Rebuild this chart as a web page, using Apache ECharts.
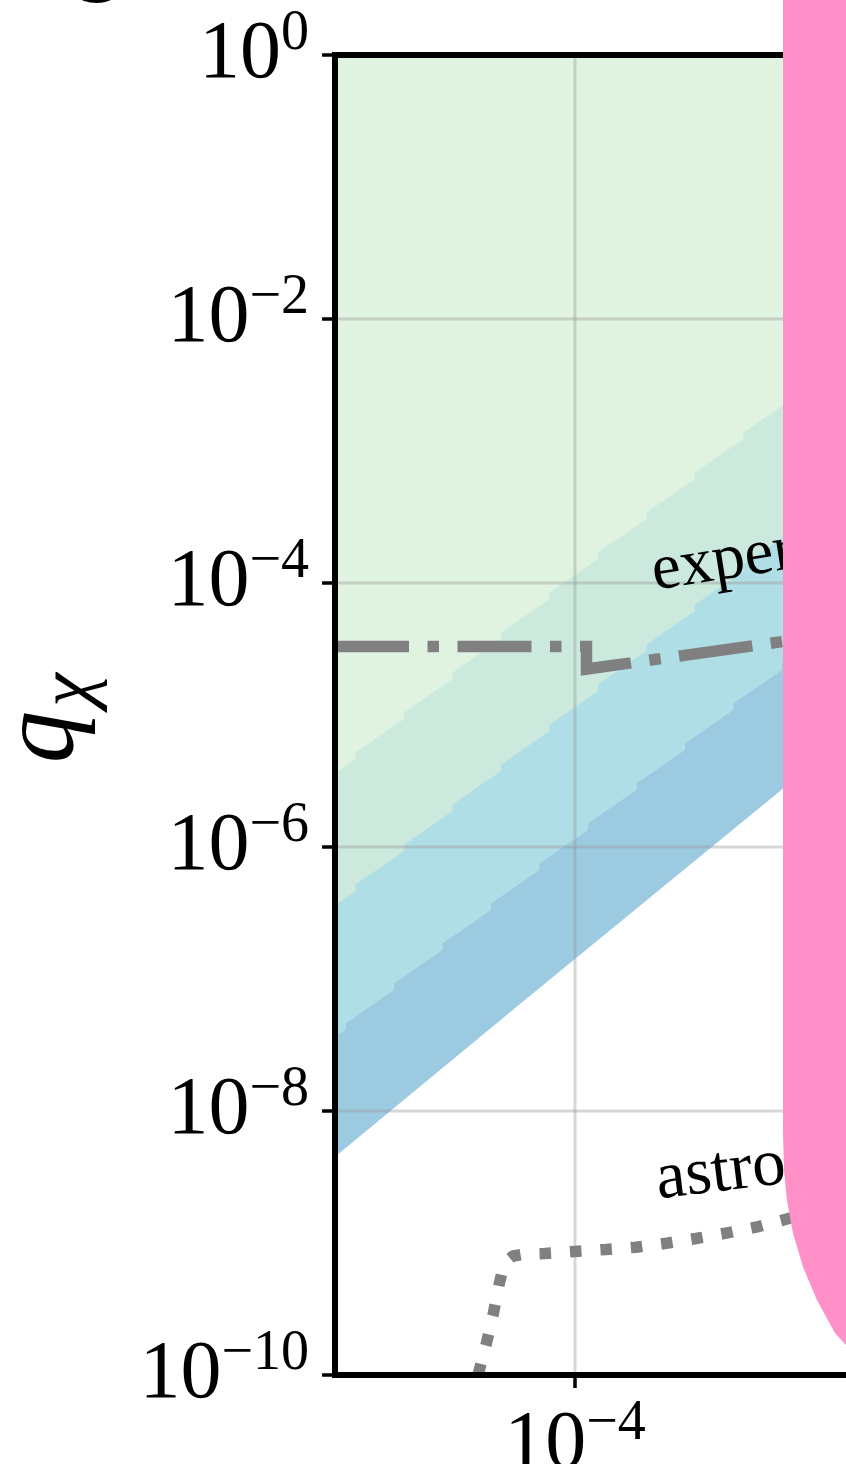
<!DOCTYPE html>
<html><head><meta charset="utf-8">
<script src="https://cdn.jsdelivr.net/npm/echarts@6/dist/echarts.min.js"></script>
<style>html,body{margin:0;padding:0;background:#fff}#c{width:846px;height:1464px}</style>
</head><body><div id="c"></div>
<script>
// axes are log10 values
const xRange = [-5, -2.45417];
const yRange = [-10, 0];
const yTicks = [0, -2, -4, -6, -8, -10];
const yGridValues = [-2, -4, -6, -8];
const xTicks = [-4];

// contour band boundaries (log10 m, log10 q)
const boundaryA = [[-5,-5.4394],[-4.91458,-5.3333],[-4.91458,-5.2841],[-4.7125,-5.0303],[-4.7125,-4.9811],[-4.51042,-4.7273],[-4.51042,-4.6780],[-4.30833,-4.4242],[-4.30833,-4.3750],[-4.10625,-4.1212],[-4.10625,-4.0720],[-3.90417,-3.8182],[-3.90417,-3.7689],[-3.70208,-3.5152],[-3.70208,-3.4659],[-3.5,-3.2121],[-3.5,-3.1629],[-3.29792,-2.9091],[-3.29792,-2.8598],[-3.09583,-2.6061],[-3.09583,-2.5568],[-2.89375,-2.3030],[-2.89375,-2.2538],[-2.69167,-2.0],[-2.69167,-1.9508],[-2.45417,-1.6515]];
const boundaryB = [[-5,-6.4394],[-4.91458,-6.3333],[-4.91458,-6.2841],[-4.7125,-6.0303],[-4.7125,-5.9811],[-4.51042,-5.7273],[-4.51042,-5.6780],[-4.30833,-5.4242],[-4.30833,-5.3750],[-4.10625,-5.1212],[-4.10625,-5.0720],[-3.90417,-4.8182],[-3.90417,-4.7689],[-3.70208,-4.5152],[-3.70208,-4.4659],[-3.5,-4.2121],[-3.5,-4.1629],[-3.29792,-3.9091],[-3.29792,-3.8598],[-3.09583,-3.6061],[-3.09583,-3.5568],[-2.89375,-3.3030],[-2.89375,-3.2538],[-2.69167,-3.0],[-2.69167,-2.9508],[-2.45417,-2.6515]];
const boundaryC = [[-5,-7.4318],[-4.95625,-7.3864],[-4.95625,-7.3371],[-4.75417,-7.0833],[-4.75417,-7.0341],[-4.55208,-6.7803],[-4.55208,-6.7311],[-4.35,-6.4773],[-4.35,-6.4280],[-4.14792,-6.1742],[-4.14792,-6.125],[-3.94583,-5.8712],[-3.94583,-5.8220],[-3.74375,-5.5682],[-3.74375,-5.5189],[-3.54167,-5.2652],[-3.54167,-5.2159],[-3.33958,-4.9621],[-3.33958,-4.9129],[-3.1375,-4.6591],[-3.1375,-4.6098],[-2.93542,-4.3561],[-2.93542,-4.3068],[-2.73333,-4.0530],[-2.73333,-4.0038],[-2.53125,-3.75],[-2.53125,-3.7008],[-2.45417,-3.6038]];
const boundaryD = [[-5,-8.3462],[-4.22917,-7.1894],[-2.45417,-4.547]];

// limit curves
const experLine = [[-5,-4.481],[-3.95208,-4.481],[-3.95208,-4.652],[-2.45417,-4.2705]];
const astroLine = [[-4.40417,-10.0],[-4.37083,-9.7727],[-4.34167,-9.5455],[-4.31667,-9.3182],[-4.3,-9.1894],[-4.28333,-9.1364],[-4.25833,-9.0985],[-4.20833,-9.0833],[-4.125,-9.0795],[-4.0,-9.0644],[-3.87083,-9.0492],[-3.74583,-9.0318],[-3.62083,-9.0023],[-3.49583,-8.9659],[-3.37083,-8.9258],[-3.24583,-8.8803],[-3.12083,-8.8197],[-2.99583,-8.75],[-2.85417,-8.6591]];
const pinkRegion = [[-3.1333,0.6],[-3.1333,-8.167],[-3.129,-8.447],[-3.117,-8.674],[-3.092,-8.924],[-3.05,-9.182],[-2.992,-9.432],[-2.917,-9.682],[-2.871,-9.773],[-2.729,-9.947],[-2.2,-9.947],[-2.2,0.6]];

const SERIF = 'Liberation Serif';
const supMinus = '\u2212';
function powLabel(v){ return '{b|10}{s|' + (v === 0 ? '0' : supMinus + Math.abs(v)) + '}'; }
const richLabel = {
  b: {fontSize: 82, lineHeight: 82, fontFamily: SERIF, color: '#000', verticalAlign: 'bottom'},
  s: {fontSize: 56, lineHeight: 56, fontFamily: SERIF, color: '#000', verticalAlign: 'bottom', padding: [0,0,34,0]}
};

function fill(data, color, origin){
  return {type:'line', data, symbol:'none', silent:true, z:1, animation:false,
    lineStyle:{width:0, opacity:0}, areaStyle:{color, opacity:1, origin}};
}
const gridColor = 'rgba(150,150,150,0.38)';
const gridSeries = yGridValues.map(v => ({type:'line', data:[[xRange[0], v],[xRange[1], v]], symbol:'none', silent:true, z:2,
  lineStyle:{color:gridColor, width:3}}))
  .concat(xTicks.map(v => ({type:'line', data:[[v, yRange[0]],[v, yRange[1]]], symbol:'none', silent:true, z:2,
  lineStyle:{color:gridColor, width:3}})));

const chart = echarts.init(document.getElementById('c'), null, {renderer:'canvas'});
const spine = {onZero:false, lineStyle:{color:'#000', width:6, cap:'square'}};
chart.setOption({
  animation:false,
  backgroundColor:'#fff',
  grid:{left:335, top:55, width:611, height:1320, containLabel:false, outerBoundsMode:'none', show:false},
  xAxis:[
    {type:'value', min:xRange[0], max:xRange[1], position:'bottom', z:5,
     axisLine:spine,
     axisTick:{show:true, customValues:xTicks, length:13, lineStyle:{color:'#000', width:3.5}},
     axisLabel:{show:true, customValues:xTicks, margin:29, formatter:powLabel, rich:richLabel},
     splitLine:{show:false}},
    {type:'value', min:xRange[0], max:xRange[1], position:'top', z:5,
     axisLine:spine, axisTick:{show:false}, axisLabel:{show:false}, splitLine:{show:false}}
  ],
  yAxis:{type:'value', min:yRange[0], max:yRange[1], interval:2, z:5,
     axisLine:spine,
     axisTick:{show:true, length:13, lineStyle:{color:'#000', width:3.5}},
     axisLabel:{margin:26, formatter:powLabel, rich:richLabel},
     splitLine:{show:false}},
  series:[
    fill(boundaryD, '#e0f2e0', 'end'),
    fill(boundaryA, '#cbeadd', 'start'),
    fill(boundaryB, '#b0dee6', 'start'),
    fill(boundaryC, '#9ccae1', 'start'),
    fill(boundaryD, '#ffffff', 'start'),
    ...gridSeries,
    {type:'line', data:experLine, symbol:'none', silent:true, z:3,
     lineStyle:{color:'#808080', width:11.5, type:[74,18.5,11.5,18.5], cap:'butt', join:'miter'}},
    {type:'line', data:astroLine, symbol:'none', silent:true, z:3,
     lineStyle:{color:'#808080', width:11.5, type:[11.5,19], cap:'butt'}},
    {type:'custom', data:pinkRegion, z:6, silent:true, clip:false,
     renderItem:(params, api) => {
       if (params.dataIndex !== 0) return null;
       const pts = pinkRegion.map(p => api.coord(p));
       return {type:'polygon', shape:{points:pts}, style:{fill:'#ff90c8', stroke:null}};
     }}
  ],
  graphic:[
    {type:'text', x:44, y:737, rotation:Math.PI/2, z:4,
     style:{text:'q', font:'italic 105px "Liberation Serif"', fill:'#000', align:'center', verticalAlign:'middle'}},
    {type:'text', x:71, y:690, rotation:Math.PI/2, z:4,
     style:{text:'\u03c7', font:'italic 76px "Liberation Serif"', fill:'#000', align:'center', verticalAlign:'middle'}},
    {type:'text', x:652, y:573, rotation:0.157, z:4,
     style:{text:'experiment', font:'65px "Liberation Serif"', fill:'#000', align:'left', verticalAlign:'middle'}},
    {type:'text', x:656, y:1181, rotation:0.122, z:4,
     style:{text:'astro. bounds', font:'67px "Liberation Serif"', fill:'#000', align:'left', verticalAlign:'middle'}},
    {type:'text', x:66, y:-26, z:4,
     style:{text:'c', font:'bold 110px "Liberation Serif"', fill:'#000', align:'left', verticalAlign:'middle'}}
  ]
});
</script></body></html>
